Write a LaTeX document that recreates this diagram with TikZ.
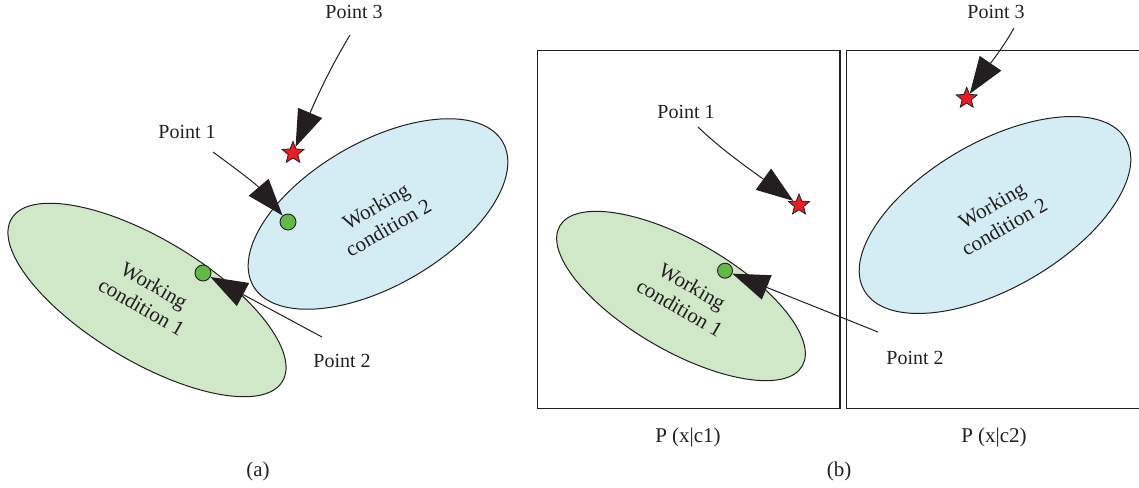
\documentclass[tikz,border=0pt]{standalone}
\usepackage{fontspec}
\setmainfont{Liberation Serif}
\usetikzlibrary{shapes.geometric,arrows.meta}
\definecolor{ink}{HTML}{231F20}
\definecolor{gfill}{HTML}{D0E7C8}
\definecolor{bfill}{HTML}{D4ECF3}
\definecolor{dotg}{HTML}{62B946}
\definecolor{starred}{HTML}{EC1C24}
\begin{document}
\begin{tikzpicture}[x=1pt,y=-1pt,
  lab/.style={font=\fontsize{20}{24}\selectfont, text=ink, inner sep=0pt},
  captext/.style={font=\fontsize{21}{25}\selectfont, text=ink, inner sep=0pt},
  wc/.style={font=\fontsize{21}{25}\selectfont, text=ink, align=center, inner sep=0pt},
  dotn/.style={circle, fill=dotg, draw=ink, line width=0.9pt, minimum size=16pt, inner sep=0pt},
  starn/.style={star, star points=5, star point ratio=2.3, fill=starred, draw=ink, line width=0.8pt, minimum size=23pt, inner sep=0pt},
  conn/.style={draw=ink, line width=1pt, -{Triangle[length=37pt,width=26pt]}},
  frame/.style={draw=ink, line width=1.3pt},
  region/.style={draw=ink, line width=1pt}]
\useasboundingbox (0,0) rectangle (1139,487);

% ---------- panel (a) ----------
\path[region, fill=gfill, rotate around={-31:(147,300)}] (147,300) ellipse [x radius=158pt, y radius=61pt];
\path[region, fill=bfill, rotate around={30:(378,214)}] (378,214) ellipse [x radius=144pt, y radius=72pt];
\node[wc, rotate=-30] (wc1a) at (148,296) {Working\\condition 1};
\node[wc, rotate=30] (wc2a) at (382,217) {Working\\condition 2};

\node[dotn] (d1a) at (288,222) {};
\node[dotn] (d2a) at (203,273) {};
\node[starn] (s3a) at (293,153) {};

\node[lab] (p3a) at (354,12) {Point 3};
\node[lab] (p1a) at (187,132) {Point 1};
\node[lab] (p2a) at (342,361) {Point 2};
\coordinate (c3a) at (350,35);
\coordinate (c1a) at (213,152);
\coordinate (c2a) at (322,337);

\draw[conn] (c3a) .. controls (335,60) and (322,85) .. (s3a);
\draw[conn] (c1a) .. controls (232,166) and (255,183) .. (d1a);
\draw[conn] (c2a) -- (d2a);

\node[captext] (capa) at (258,471) {(a)};

% ---------- panel (b) ----------
\draw[frame] (537.3,50.7) rectangle (840,408.3);
\draw[frame] (1142,50.7) -- (846.7,50.7) -- (846.7,408.3) -- (1142,408.3);
\path[region, fill=gfill, rotate around={-30:(681,296)}] (681,296) ellipse [x radius=140pt, y radius=55pt];
\path[region, fill=bfill, rotate around={30:(995,215)}] (995,215) ellipse [x radius=151pt, y radius=73pt];
\node[wc, rotate=-30] (wc1b) at (686,297) {Working\\condition 1};
\node[wc, rotate=30] (wc2b) at (998,216) {Working\\condition 2};

\node[dotn, minimum size=15pt] (d2b) at (725,270.7) {};
\node[starn, minimum size=22pt] (s1b) at (799,205) {};
\node[starn, minimum size=22pt] (s3b) at (966.7,98.3) {};

\node[lab] (p3b) at (996,12) {Point 3};
\node[lab] (p1b) at (686,112) {Point 1};
\node[lab] (p2b) at (915,358) {Point 2};
\coordinate (c3b) at (1014,28);
\coordinate (c1b) at (698,127);
\coordinate (c2b) at (878,332);

\draw[conn] (c3b) .. controls (1004,46) and (990,64) .. (s3b);
\draw[conn] (c1b) .. controls (722,150) and (748,168) .. (s1b);
\draw[conn] (c2b) -- (d2b);

\node[captext] (pc1) at (688,437) {P (x|c1)};
\node[captext] (pc2) at (994,437) {P (x|c2)};
\node[captext] (capb) at (839,471) {(b)};
\end{tikzpicture}
\end{document}
